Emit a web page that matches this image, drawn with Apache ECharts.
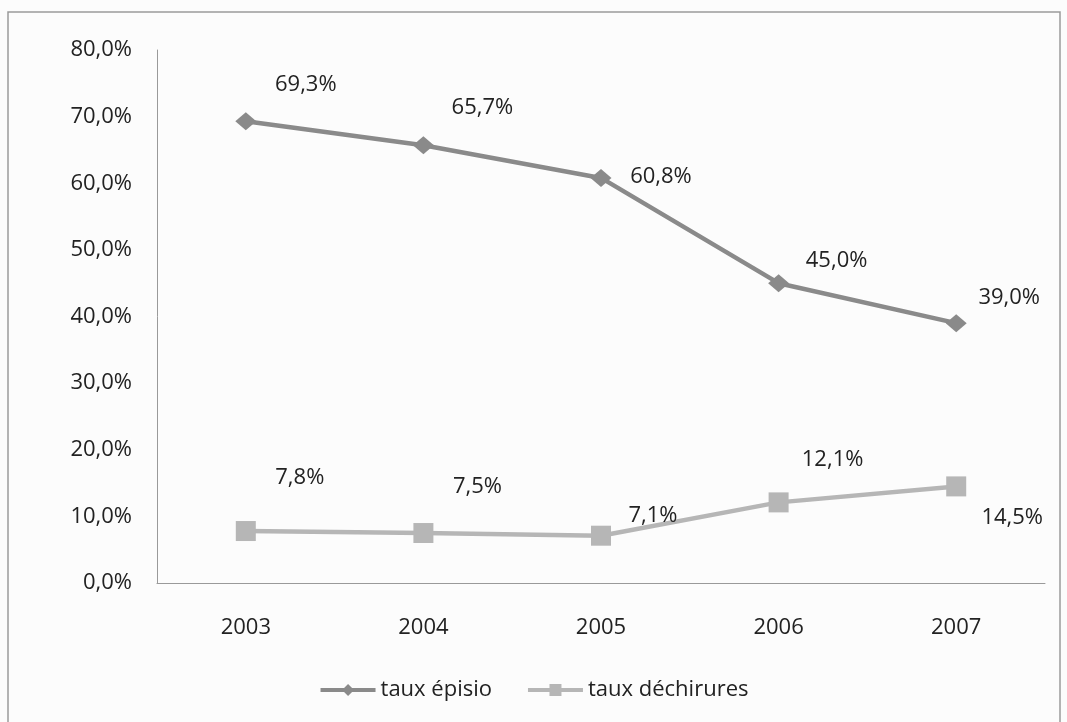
<!DOCTYPE html>
<html>
<head>
<meta charset="utf-8">
<script src="https://cdn.jsdelivr.net/npm/echarts@6/dist/echarts.min.js"></script>
<style>
  html, body { margin: 0; padding: 0; background: #fcfcfc; }
  #chart { width: 1067px; height: 722px; }
</style>
</head>
<body>
<div id="chart"></div>
<script>
// Years on the category axis
const years = ['2003', '2004', '2005', '2006', '2007'];
// Episiotomy rate per year (%)
const tauxEpisio = [69.3, 65.7, 60.8, 45.0, 39.0];
// Tear rate per year (%)
const tauxDechirures = [7.8, 7.5, 7.1, 12.1, 14.5];
// Y axis range and step (%)
const yTicks = [0, 10, 20, 30, 40, 50, 60, 70, 80];

const fmt = v => v.toFixed(1).replace('.', ',') + '%';

// Label placement for each point, relative to the marker
const episioLabelOffsets = [[60, -37], [59, -38], [60, -1], [58, -22], [53, -25]];
const dechLabelOffsets = [[54, -53], [54, -46], [52, -20], [54, -43], [56, 31]];

const FONT = '"Open Sans", Lato, sans-serif';
const FS = 22;

function withLabels(values, offsets) {
  return values.map((v, i) => ({
    value: v,
    label: { offset: offsets[i] }
  }));
}

const chart = echarts.init(document.getElementById('chart'));
chart.setOption({
  backgroundColor: '#fcfcfc',
  animation: false,
  graphic: [{
    type: 'rect',
    shape: { x: 8, y: 12, width: 1052, height: 720 },
    style: { fill: 'none', stroke: '#9a9a9a', lineWidth: 1.5 }
  }],
  grid: { left: 157, right: 22, top: 50, bottom: 139 },
  xAxis: {
    type: 'category',
    data: years,
    boundaryGap: true,
    axisLine: { lineStyle: { color: '#9a9a9a', width: 1 } },
    axisTick: { show: false },
    axisLabel: { color: '#222', fontSize: FS, fontFamily: FONT, margin: 34 }
  },
  yAxis: {
    type: 'value',
    min: yTicks[0],
    max: yTicks[yTicks.length - 1],
    interval: yTicks[1] - yTicks[0],
    axisLine: { show: true, lineStyle: { color: '#9a9a9a', width: 1 } },
    axisTick: { show: false },
    splitLine: { show: false },
    axisLabel: { color: '#222', fontSize: FS, fontFamily: FONT, margin: 25, formatter: v => fmt(v) }
  },
  legend: {
    bottom: 16,
    left: 'center',
    itemWidth: 55,
    itemHeight: 15,
    itemGap: 34,
    lineStyle: { width: 4 },
    textStyle: { color: '#222', fontSize: FS, fontFamily: FONT },
    data: ['taux épisio', 'taux déchirures']
  },
  series: [
    {
      name: 'taux épisio',
      type: 'line',
      data: withLabels(tauxEpisio, episioLabelOffsets),
      symbol: 'diamond',
      symbolSize: [21, 18],
      lineStyle: { color: '#8a8a8a', width: 4.5 },
      itemStyle: { color: '#8a8a8a' },
      label: {
        show: true,
        position: 'inside',
        color: '#222',
        fontSize: FS,
        fontFamily: FONT,
        formatter: p => fmt(p.value)
      }
    },
    {
      name: 'taux déchirures',
      type: 'line',
      data: withLabels(tauxDechirures, dechLabelOffsets),
      symbol: 'rect',
      symbolSize: 20,
      lineStyle: { color: '#b6b6b6', width: 4.5 },
      itemStyle: { color: '#b6b6b6' },
      label: {
        show: true,
        position: 'inside',
        color: '#222',
        fontSize: FS,
        fontFamily: FONT,
        formatter: p => fmt(p.value)
      }
    }
  ]
});
</script>
</body>
</html>
